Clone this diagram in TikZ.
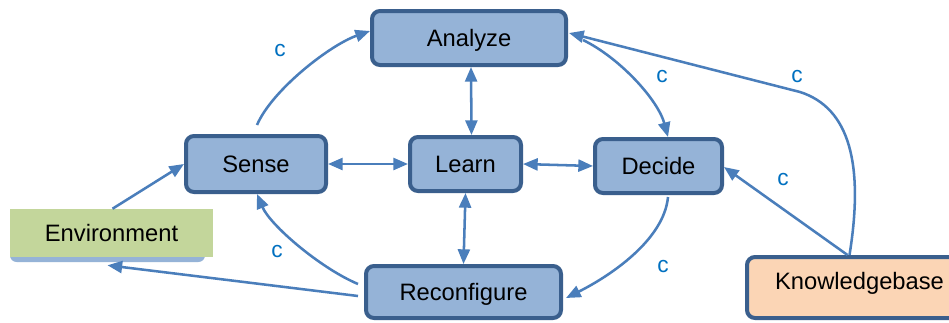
\documentclass[tikz,border=0pt]{standalone}
\usepackage{fontspec}
\setmainfont{Liberation Sans}
\usetikzlibrary{arrows.meta,calc}
\definecolor{boxfill}{HTML}{95B3D7}
\definecolor{boxline}{HTML}{3A5F8D}
\definecolor{arrowc}{HTML}{4A7EBB}
\definecolor{labc}{HTML}{0070C0}
\definecolor{envfill}{HTML}{C3D69B}
\definecolor{kbfill}{HTML}{FBD5B5}
\begin{document}
\begin{tikzpicture}[x=0.75pt,y=-0.75pt,
  txt/.style={inner sep=0pt, text height=12.7pt, text depth=0pt, font=\fontsize{17.8}{21}\selectfont},
  box/.style={txt, draw=boxline, fill=boxfill, line width=3pt, rounded corners=6pt},
  conn/.style={draw=arrowc, line width=1.9pt, -{Triangle[length=11pt,width=9pt]}},
  both/.style={draw=arrowc, line width=1.9pt, {Triangle[length=11pt,width=9pt]}-{Triangle[length=11pt,width=9pt]}},
  clab/.style={text=labc, inner sep=0pt, font=\fontsize{17}{20}\selectfont}]
\fill[white] (0,0) rectangle (949,322);
\clip (0,0) rectangle (949,322);
% nodes
\node[box, minimum width=145.5pt, minimum height=40.5pt] (analyze) at (469,38) {Analyze};
\node[box, minimum width=105pt, minimum height=42pt] (sense) at (256,164) {Sense};
\node[box, minimum width=83.25pt, minimum height=40.5pt] (learn) at (465.5,164) {Learn};
\node[box, minimum width=95.25pt, minimum height=40.5pt] (decide) at (658.5,166) {Decide};
\node[box, minimum width=146.25pt, minimum height=39pt] (reconf) at (463.5,292) {Reconfigure};
\node[box, fill=kbfill, minimum width=168.75pt, minimum height=45.75pt] (kb) at (859.5,287.5) {};
\node[txt] (kbtext) at (859.5,281) {Knowledgebase};
\node[fill=boxfill, rounded corners=5pt, inner sep=0pt, minimum width=146.25pt, minimum height=35.25pt] (envshadow) at (107.5,238.5) {};
\node[txt, fill=envfill, minimum width=152.25pt, minimum height=36pt] (env) at (111.5,233) {Environment};
% connectors
\coordinate (kbtop) at ($(kb.north)+(-10,0)$);
\draw[conn] ($(sense.north)+(1,-9)$) .. controls (272,90) and (330,45) .. ($(analyze.west)+(0,-7)$);
\draw[both] ($(analyze.south)+(2,0)$) -- ($(learn.north)+(6,0)$);
\draw[both] (learn.south) -- (reconf.north);
\draw[both] (sense.east) -- (learn.west);
\draw[both] (learn.east) -- (decide.west);
\draw[conn] ($(analyze.east)+(15,2)$) .. controls (620,58) and (658,100) .. ($(decide.north)+(9.5,0)$);
\draw[conn] (kbtop) .. controls (864,165) and (850,108) .. (800,92) -- ($(analyze.east)+(1,-5)$);
\draw[conn] ($(kbtop)+(-2,0)$) -- ($(decide.east)+(0,1)$);
\draw[conn] ($(decide.south)+(9.5,2)$) .. controls (664,240) and (610,276) .. ($(reconf.east)+(3,6)$);
\draw[conn] ($(reconf.west)+(-6,-8)$) .. controls (320,268) and (270,225) .. ($(sense.south)+(1,0)$);
\draw[conn] ($(reconf.west)+(-6,4)$) -- ($(env.south)+(-4,8)$);
\draw[conn] ($(env.north)+(1,0)$) -- (sense.west);
% labels
\node[clab] (c1) at (280,51) {c};
\node[clab] (c2) at (662,77) {c};
\node[clab] (c3) at (797,77) {c};
\node[clab] (c4) at (783,180) {c};
\node[clab] (c5) at (663,267) {c};
\node[clab] (c6) at (277,252) {c};
\end{tikzpicture}
\end{document}
